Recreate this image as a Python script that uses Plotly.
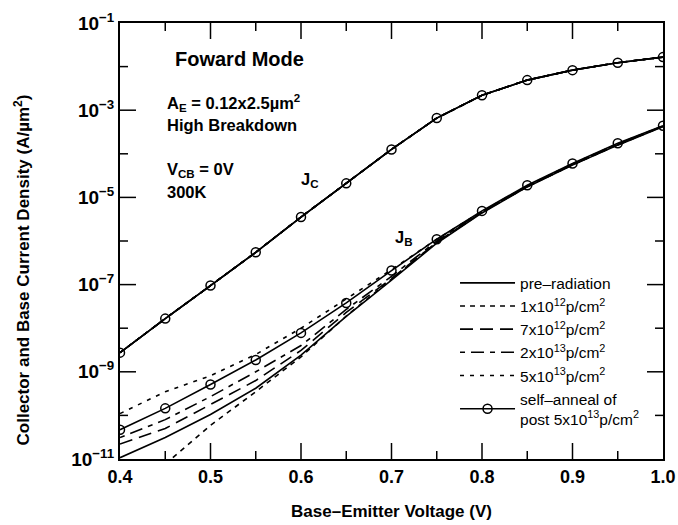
import plotly.graph_objects as go

# Base-emitter voltage (V)
vbe = [0.40, 0.45, 0.50, 0.55, 0.60, 0.65, 0.70, 0.75, 0.80, 0.85, 0.90, 0.95, 1.00]

# Collector current density (A/um^2) - all conditions overlap
jc = [2.75e-9, 1.66e-8, 9.5e-8, 5.5e-7, 3.55e-6, 2.1e-5, 1.26e-4, 6.6e-4,
      2.2e-3, 4.9e-3, 8.3e-3, 1.23e-2, 1.65e-2]

# Base current density (A/um^2)
jb_pre = [1.07e-11, 3.1e-11, 1.05e-10, 4.2e-10, 2.4e-9, 1.86e-8, 1.26e-7, 8.9e-7,
          4.4e-6, 1.74e-5, 5.5e-5, 1.58e-4, 4.2e-4]
jb_1e12 = [None, 7.6e-12, 5.9e-11, 3.5e-10, 2.2e-9, 1.9e-8, 1.32e-7, 9.3e-7,
           4.5e-6, 1.76e-5, 5.6e-5, 1.6e-4, 4.25e-4]
jb_7e12 = [2.2e-11, 5.0e-11, 1.78e-10, 6.3e-10, 3.1e-9, 2.3e-8, 1.38e-7, 9.3e-7,
           4.6e-6, 1.78e-5, 5.6e-5, 1.62e-4, 4.3e-4]
jb_2e13 = [3.1e-11, 8.0e-11, 2.7e-10, 1.0e-9, 4.0e-9, 2.7e-8, 1.55e-7, 1.0e-6,
           4.7e-6, 1.8e-5, 5.8e-5, 1.68e-4, 4.3e-4]
jb_5e13 = [1.1e-10, 3.5e-10, 8.1e-10, 2.5e-9, 1.0e-8, 4.6e-8, 2.2e-7, 1.1e-6,
           4.8e-6, 1.85e-5, 5.9e-5, 1.7e-4, 4.35e-4]
jb_anneal = [4.7e-11, 1.45e-10, 5.1e-10, 1.87e-9, 7.8e-9, 3.8e-8, 2.1e-7, 1.1e-6,
             4.9e-6, 1.9e-5, 6.0e-5, 1.74e-4, 4.4e-4]

series_names = ["pre\u2013radiation", "1x10<sup>12</sup>p/cm<sup>2</sup>",
                "7x10<sup>12</sup>p/cm<sup>2</sup>", "2x10<sup>13</sup>p/cm<sup>2</sup>",
                "5x10<sup>13</sup>p/cm<sup>2</sup>",
                "self\u2013anneal of<br>post 5x10<sup>13</sup>p/cm<sup>2</sup>"]
series_jb = [jb_pre, jb_1e12, jb_7e12, jb_2e13, jb_5e13, jb_anneal]
series_dash = ["solid", "5px,5px", "13px,7px", "5px,6px,13px,6px", "4px,6px", "solid"]

y_tickvals = [1e-11, 1e-9, 1e-7, 1e-5, 1e-3, 1e-1]
y_ticktext = ["10<sup>\u221211</sup>", "10<sup>\u22129</sup>", "10<sup>\u22127</sup>",
              "10<sup>\u22125</sup>", "10<sup>\u22123</sup>", "10<sup>\u22121</sup>"]
y_minor = [1e-10, 1e-8, 1e-6, 1e-4, 1e-2]
x_tickvals = [0.4, 0.5, 0.6, 0.7, 0.8, 0.9, 1.0]
x_ticktext = ["0.4", "0.5", "0.6", "0.7", "0.8", "0.9", "1.0"]
x_minor = [0.45, 0.55, 0.65, 0.75, 0.85, 0.95]

X_RANGE = [0.4, 1.0]
Y_RANGE_LOG = [-11, -1]
FONT = "Liberation Sans, Arial, sans-serif"
W, H = 678, 525
M_L, M_R, M_T, M_B = 120, 15, 23, 66
MAJOR_LEN, MINOR_LEN = 16, 8   # tick lengths in px

fig = go.Figure()
for i, (name, jb, dash) in enumerate(zip(series_names, series_jb, series_dash)):
    is_anneal = (i == len(series_names) - 1)
    fig.add_trace(go.Scatter(
        x=vbe + [None] + vbe,
        y=jc + [None] + jb,
        mode="lines+markers" if is_anneal else "lines",
        name=name,
        legendgroup="g%d" % i,
        line=dict(color="black", width=1.6, dash=dash),
        marker=dict(symbol="circle-open", size=9, color="black", line=dict(width=1.5)),
        connectgaps=False,
    ))

# Inside tick marks on all four sides, built from the tick value lists and the axis ranges
x_per_px = (X_RANGE[1] - X_RANGE[0]) / (W - M_L - M_R)
dec_per_px = (Y_RANGE_LOG[1] - Y_RANGE_LOG[0]) / (H - M_T - M_B)
tx, ty = [], []
for vals, ln in ((x_tickvals, MAJOR_LEN), (x_minor, MINOR_LEN)):
    for v in vals:
        if v in X_RANGE:
            continue
        tx += [v, v, None, v, v, None]
        ty += [10 ** Y_RANGE_LOG[0], 10 ** (Y_RANGE_LOG[0] + ln * dec_per_px), None,
               10 ** Y_RANGE_LOG[1], 10 ** (Y_RANGE_LOG[1] - ln * dec_per_px), None]
for vals, ln in ((y_tickvals, MAJOR_LEN), (y_minor, MINOR_LEN)):
    for v in vals:
        if v in (10 ** Y_RANGE_LOG[0], 10 ** Y_RANGE_LOG[1]):
            continue
        tx += [X_RANGE[0], X_RANGE[0] + ln * x_per_px, None,
               X_RANGE[1], X_RANGE[1] - ln * x_per_px, None]
        ty += [v, v, None, v, v, None]
fig.add_trace(go.Scatter(x=tx, y=ty, mode="lines", showlegend=False, hoverinfo="skip",
                         line=dict(color="black", width=1.5), connectgaps=False))

annots = [
    dict(text="Foward Mode", x=0.098, y=0.917, size=20),
    dict(text="A<sub>E</sub> = 0.12x2.5\u00b5m<sup>2</sup>", x=0.083, y=0.817, size=16.5),
    dict(text="High Breakdown", x=0.083, y=0.766, size=16.5),
    dict(text="V<sub>CB</sub> = 0V", x=0.083, y=0.662, size=16.5),
    dict(text="300K", x=0.083, y=0.612, size=16.5),
    dict(text="J<sub>C</sub>", x=0.33, y=0.64, size=16.5),
    dict(text="J<sub>B</sub>", x=0.503, y=0.507, size=16.5),
]
for a in annots:
    fig.add_annotation(text="<b>%s</b>" % a["text"], x=a["x"], y=a["y"],
                       xref="paper", yref="paper", xanchor="left", yanchor="middle",
                       showarrow=False, font=dict(family=FONT, size=a["size"], color="black"))

# Y-axis title (placed as in the original figure, slightly below the axis centre)
fig.add_annotation(text="<b>Collector and Base Current Density (A/\u00b5m<sup>2</sup>)</b>",
                   x=-0.18, y=0.433, xref="paper", yref="paper", textangle=-90,
                   xanchor="center", yanchor="middle", showarrow=False,
                   font=dict(family=FONT, size=17, color="black"))

fig.update_layout(
    width=W, height=H,
    margin=dict(l=M_L, r=M_R, t=M_T, b=M_B),
    paper_bgcolor="white", plot_bgcolor="white",
    showlegend=True,
    legend=dict(x=0.617, y=0.442, xanchor="left", yanchor="top",
                bgcolor="rgba(0,0,0,0)", borderwidth=0,
                itemwidth=55, tracegroupgap=0, traceorder="normal",
                font=dict(family=FONT, size=15.5, color="black")),
    xaxis=dict(
        range=X_RANGE, tickmode="array", tickvals=x_tickvals,
        ticktext=["<b>%s</b>" % t for t in x_ticktext],
        tickfont=dict(family=FONT, size=18, color="black"),
        title=dict(text="<b>Base\u2013Emitter Voltage (V)</b>",
                   font=dict(family=FONT, size=17, color="black"), standoff=20),
        showline=True, linewidth=2, linecolor="black", mirror=True, ticks="",
        showgrid=False, zeroline=False, automargin=False,
    ),
    yaxis=dict(
        type="log", range=Y_RANGE_LOG, tickmode="array", tickvals=y_tickvals,
        ticktext=["<b>%s</b>" % t for t in y_ticktext],
        tickfont=dict(family=FONT, size=19, color="black"),
        showline=True, linewidth=2, linecolor="black", mirror=True, ticks="",
        showgrid=False, zeroline=False, automargin=False,
    ),
)

fig.write_html("out.html")
